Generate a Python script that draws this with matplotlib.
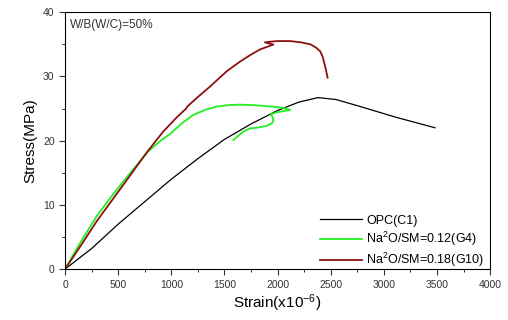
import matplotlib.pyplot as plt
from matplotlib.ticker import MultipleLocator

plt.rcParams['font.family'] = ['Liberation Sans', 'DejaVu Sans']
plt.rcParams['mathtext.fontset'] = 'custom'
plt.rcParams['mathtext.rm'] = 'Liberation Sans'
plt.rcParams['mathtext.it'] = 'Liberation Sans'
plt.rcParams['mathtext.default'] = 'regular'

# OPC(C1)
opc_strain = [0, 250, 500, 750, 1000, 1250, 1500, 1750, 2000, 2200, 2380, 2550, 2800, 3100, 3481]
opc_stress = [0, 3.2, 7.0, 10.5, 14.0, 17.2, 20.2, 22.6, 24.7, 26.0, 26.7, 26.4, 25.2, 23.7, 22.0]

# Na2O/SM=0.12(G4)
g4_strain = [0, 150, 300, 450, 600, 781, 900, 1000, 1100, 1206, 1320, 1426, 1550, 1646, 1750, 1835,
             1950, 2050, 2118, 2060, 1990, 1935, 1955, 1960, 1945, 1898, 1800, 1740, 1677, 1583]
g4_stress = [0, 4.3, 8.3, 11.6, 14.7, 18.3, 20.0, 21.2, 22.7, 24.0, 24.8, 25.3, 25.55, 25.6, 25.55, 25.45,
             25.3, 25.1, 24.8, 24.6, 24.4, 24.1, 23.6, 23.1, 22.7, 22.3, 22.0, 21.9, 21.4, 20.1]

# Na2O/SM=0.18(G10)
g10_strain = [0, 150, 300, 450, 600, 766, 923, 1050, 1120, 1140, 1150, 1250, 1363, 1521, 1646, 1740,
              1835, 1900, 1960, 1880, 1930, 2000, 2118, 2220, 2307, 2360, 2401, 2425, 2440, 2455, 2470]
g10_stress = [0, 3.7, 7.5, 10.9, 14.3, 18.1, 21.4, 23.6, 24.7, 25.0, 25.3, 26.8, 28.4, 30.8, 32.3, 33.3,
              34.2, 34.6, 34.95, 35.3, 35.4, 35.5, 35.5, 35.3, 35.0, 34.5, 33.9, 33.0, 32.0, 31.0, 29.8]

fig = plt.figure(figsize=(5.08, 3.2), dpi=100)
ax = fig.add_axes([0.128, 0.159, 0.837, 0.803])

ax.plot(opc_strain, opc_stress, color='black', linewidth=0.9, label='OPC(C1)')
ax.plot(g4_strain, g4_stress, color='#22ee22', linewidth=1.3, label='Na$^2$O/SM=0.12(G4)')
ax.plot(g10_strain, g10_stress, color='#8b1010', linewidth=1.3, label='Na$^2$O/SM=0.18(G10)')

ax.set_xlim(0, 4000)
ax.set_ylim(0, 40)
ax.xaxis.set_major_locator(MultipleLocator(500))
ax.xaxis.set_minor_locator(MultipleLocator(250))
ax.yaxis.set_major_locator(MultipleLocator(10))
ax.yaxis.set_minor_locator(MultipleLocator(5))
ax.tick_params(which='major', direction='out', length=4, labelsize=7.5, colors='#333333')
ax.tick_params(which='minor', direction='out', length=2.5)

ax.set_xlabel('Strain(x10$^{-6}$)', fontsize=11, labelpad=2)
ax.set_ylabel('Stress(MPa)', fontsize=11, labelpad=4)

ax.text(0.012, 0.975, 'W/B(W/C)=50%', transform=ax.transAxes, fontsize=8.5,
        va='top', ha='left', color='#333333')

ax.legend(loc='lower right', bbox_to_anchor=(1.0, -0.025), frameon=False, fontsize=9,
          handlelength=3.4, handletextpad=0.3, labelspacing=0.25, borderaxespad=0.1)

fig.savefig('out.png', dpi=100)
